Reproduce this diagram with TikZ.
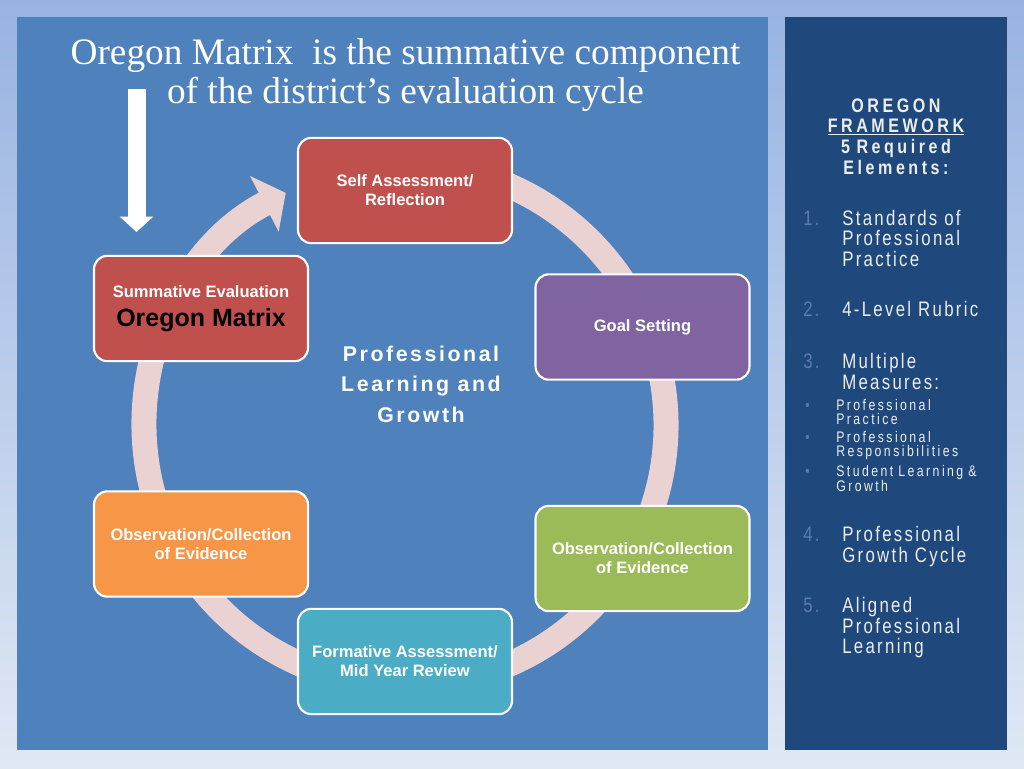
\documentclass[tikz,border=0pt]{standalone}
\usepackage{fontspec}
\setmainfont{Liberation Serif}
\setsansfont{Liberation Sans}
\newfontfamily\cyclefont[LetterSpace=12]{Liberation Sans}
\newfontfamily\panelfont[FakeStretch=0.8, LetterSpace=11]{Liberation Sans}
\newfontfamily\headfont[FakeStretch=0.82, LetterSpace=18]{Liberation Sans}
\newfontfamily\smallfont[FakeStretch=0.8, LetterSpace=16]{Liberation Sans}
\usetikzlibrary{arrows.meta, positioning}
\definecolor{bgTop}{HTML}{98B3E2}
\definecolor{bgBottom}{HTML}{E0E8F4}
\definecolor{slideBlue}{HTML}{4F81BD}
\definecolor{panelBlue}{HTML}{1F497D}
\definecolor{selfRed}{HTML}{C0504D}
\definecolor{goalPurple}{HTML}{8064A2}
\definecolor{obsOrange}{HTML}{F79646}
\definecolor{obsGreen}{HTML}{9BBB59}
\definecolor{midTeal}{HTML}{4BACC6}
\definecolor{ringPink}{HTML}{EBD2D2}
\definecolor{numBlue}{HTML}{5A7CB0}
\definecolor{panelText}{HTML}{EDEDED}

\begin{document}
\begin{tikzpicture}[
    x=0.75pt, y=-0.75pt,
    stage/.style={rectangle, draw=white, line width=1.6pt, rounded corners=10pt, minimum width=160.5pt, minimum height=79pt, align=center, text=white, font=\sffamily\bfseries\fontsize{12.4}{14.25}\selectfont},
    heading/.style={anchor=base, inner sep=0pt, text=white, font=\fontsize{28}{30}\selectfont},
    cycle/.style={draw=ringPink, line width=18.75pt, -{Triangle[width=46pt, length=18pt]}},
    pointer/.style={draw=white, line width=13.5pt, -{Triangle[width=24.5pt, length=11.5pt]}},
    header/.style={anchor=base, inner sep=0pt, text width=160pt, align=center, text=panelText, font=\headfont\bfseries\fontsize{14.7}{15.5}\selectfont},
    entry/.style={anchor=base west, inner sep=0pt, text width=125pt, align=left, text=panelText, font=\panelfont\fontsize{15.75}{15.5}\selectfont},
    number/.style={anchor=base west, inner sep=0pt, text=numBlue, font=\panelfont\fontsize{15.75}{15.5}\selectfont},
    subentry/.style={anchor=base west, inner sep=0pt, text width=125pt, align=left, text=panelText, font=\smallfont\fontsize{11.5}{10.5}\selectfont},
    bullet/.style={anchor=base west, inner sep=0pt, text=numBlue, font=\smallfont\fontsize{11.5}{10.5}\selectfont},
]
    \useasboundingbox (0,0) rectangle (1024,768);
    \fill[top color=bgTop, bottom color=bgBottom] (0,0) rectangle (1024,768);
    \fill[slideBlue] (17,17) rectangle (768,750);
    \fill[panelBlue] (785,17) rectangle (1007,750);

    % title and pointer
    \node[heading] (title) at (405.5,64) {Oregon Matrix\ \ is the summative component};
    \node[heading] (subtitle) at (405.5,103) {of the district's evaluation cycle};
    \coordinate (pointertop) at (136.5,89);
    \coordinate (pointertip) at (136.5,232);
    \draw[pointer] (pointertop) -- (pointertip);

    % the cycle
    \coordinate (hub) at (405,425);
    \draw[cycle] (hub) ++(-100:261) arc[start angle=-100, end angle=242.8, radius=261];

    \node[stage, fill=selfRed] (self) at (405,190.5) {Self Assessment/\\Reflection};
    \node[stage, fill=selfRed] (summ) at (201,308.5) {Summative Evaluation\\[8pt]{\fontsize{18.75}{22}\selectfont\color{black}Oregon Matrix}};
    \node[stage, fill=goalPurple] (goal) at (642.5,327) {Goal Setting};
    \node[stage, fill=obsOrange] (obsleft) at (201,544) {Observation/Collection\\of Evidence};
    \node[stage, fill=obsGreen] (obsright) at (642.5,558.5) {Observation/Collection\\of Evidence};
    \node[stage, fill=midTeal] (formative) at (405,661.5) {Formative Assessment/\\Mid Year Review};
    \node[align=center, text=white, font=\cyclefont\bfseries\fontsize{16}{22.9}\selectfont] (growth) at (421,384) {Professional\\Learning and\\Growth};

    % framework panel
    \node[header] (framework) at (896,112) {OREGON\\\underline{FRAMEWORK}\\5 Required\\Elements:};
    \node[number] (n1) at (803,225) {1.};
    \node[entry] (e1) at (842,225) {Standards of\\Professional\\Practice};
    \node[number] (n2) at (803,316.5) {2.};
    \node[entry] (e2) at (842,316.5) {4-Level Rubric};
    \node[number] (n3) at (803,368.5) {3.};
    \node[entry] (e3) at (842,368.5) {Multiple\\Measures:};
    \node[bullet] (b1) at (805,410) {\textbullet};
    \node[subentry] (s1) at (836,410) {Professional\\Practice};
    \node[bullet] (b2) at (805,442.7) {\textbullet};
    \node[subentry] (s2) at (836,442.7) {Professional\\Responsibilities};
    \node[bullet] (b3) at (805,476) {\textbullet};
    \node[subentry] (s3) at (836,476) {Student Learning \&\\Growth};
    \node[number] (n4) at (803,541.5) {4.};
    \node[entry] (e4) at (842,541.5) {Professional\\Growth Cycle};
    \node[number] (n5) at (803,612.5) {5.};
    \node[entry] (e5) at (842,612.5) {Aligned\\Professional\\Learning};
\end{tikzpicture}
\end{document}
